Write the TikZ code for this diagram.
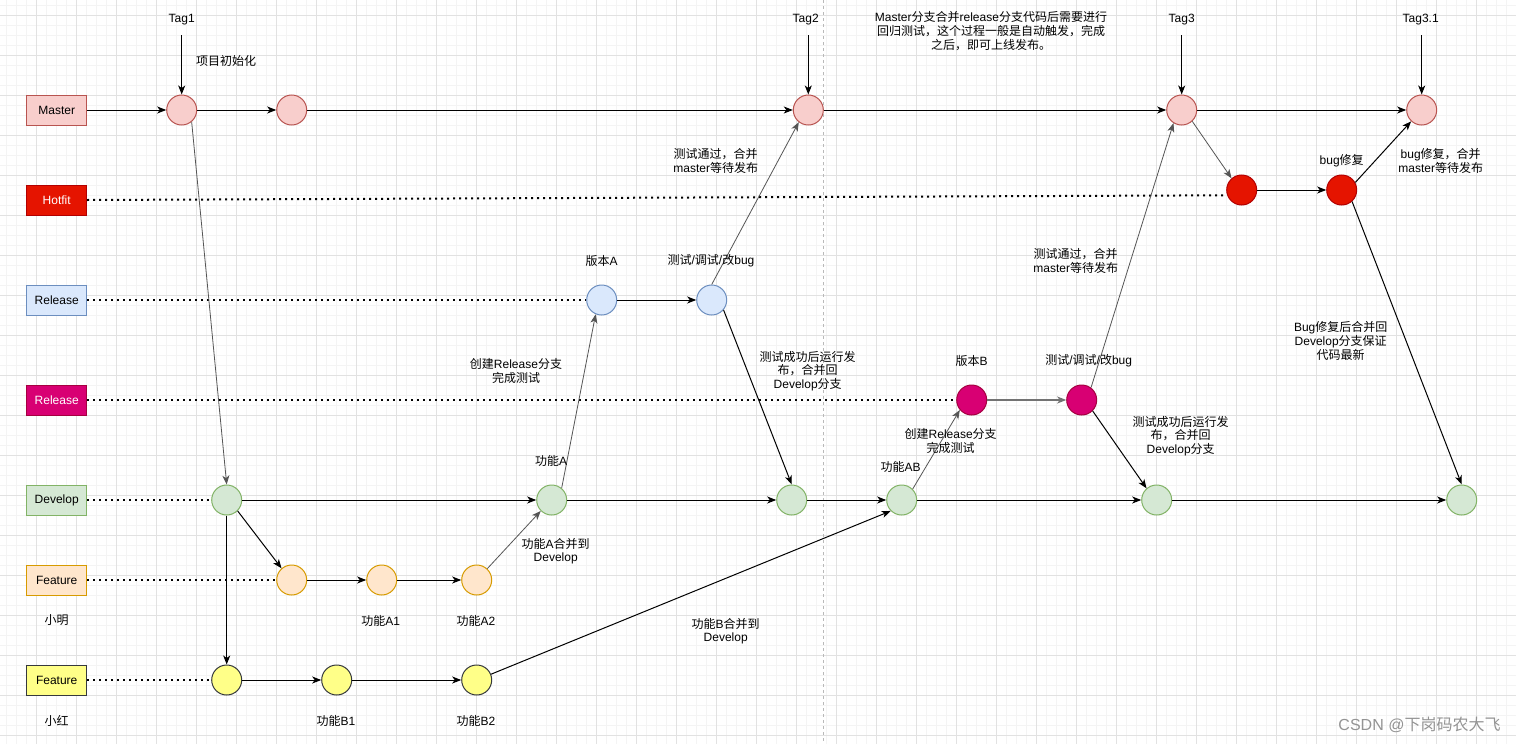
\documentclass[tikz,border=0pt]{standalone}
\usepackage{fontspec}
\setmainfont{Liberation Sans}
\newfontfamily\cjkf{Noto Sans CJK SC}
\usetikzlibrary{arrows.meta}
\XeTeXinterchartokenstate=1
\newXeTeXintercharclass\cjkcls
\makeatletter
\def\setcjkrange#1#2{\count@=#1\relax\loop\XeTeXcharclass\count@=\cjkcls\relax\ifnum\count@<#2\relax\advance\count@ by 1\relax\repeat}
\makeatother
\setcjkrange{"4E00}{"9FFF}
\setcjkrange{"3000}{"303F}
\setcjkrange{"FF00}{"FFEF}
\XeTeXinterchartoks 0 \cjkcls = {\cjkf}
\XeTeXinterchartoks 4095 \cjkcls = {\cjkf}
\XeTeXinterchartoks \cjkcls 0 = {\rmfamily}
\XeTeXinterchartoks \cjkcls 4095 = {\rmfamily}
\newcommand\dfont{\fontsize{12}{13.6}\selectfont}
\definecolor{mfill}{HTML}{F8CECC}\definecolor{mdraw}{HTML}{B85450}
\definecolor{hfill}{HTML}{E51400}\definecolor{hdraw}{HTML}{B20000}
\definecolor{rfill}{HTML}{DAE8FC}\definecolor{rdraw}{HTML}{6C8EBF}
\definecolor{sfill}{HTML}{D80073}\definecolor{sdraw}{HTML}{A50040}
\definecolor{dfill}{HTML}{D5E8D4}\definecolor{ddraw}{HTML}{82B366}
\definecolor{ffill}{HTML}{FFE6CC}\definecolor{fdraw}{HTML}{D79B00}
\definecolor{yfill}{HTML}{FFFF88}\definecolor{ydraw}{HTML}{36393D}
\definecolor{lgray}{HTML}{555555}
\definecolor{gmajor}{HTML}{E2E2E2}
\definecolor{gminor}{HTML}{F4F4F4}
\begin{document}
\begin{tikzpicture}[x=1pt,y=-1pt,line width=1pt,
  >={Stealth[length=9pt,width=7pt,inset=2.5pt]},
  lane/.style={draw, minimum width=60pt, minimum height=30pt, inner sep=0pt, font=\dfont},
  commit/.style={circle, draw, minimum size=30pt, inner sep=0pt},
  mc/.style={commit, fill=mfill, draw=mdraw},
  hc/.style={commit, fill=hfill, draw=hdraw},
  rc/.style={commit, fill=rfill, draw=rdraw},
  sc/.style={commit, fill=sfill, draw=sdraw},
  dc/.style={commit, fill=dfill, draw=ddraw},
  fc/.style={commit, fill=ffill, draw=fdraw},
  yc/.style={commit, fill=yfill, draw=ydraw},
  txt/.style={font=\dfont, align=center, inner sep=0pt},
  arr/.style={->, draw=black, line width=1pt},
  garr/.style={->, draw=lgray, line width=0.8pt},
  dots/.style={draw=black, line width=2pt, dash pattern=on 2pt off 4pt}]
\useasboundingbox (0,0) rectangle (1516,744);
\fill[white] (0,0) rectangle (1516,744);
% grid
\foreach \i in {0,...,151} \draw[gminor, line width=0.8pt] (6.7+10*\i,0) -- (6.7+10*\i,744);
\foreach \i in {0,...,74} \draw[gminor, line width=0.8pt] (0,5+10*\i) -- (1516,5+10*\i);
\foreach \i in {0,...,37} \draw[gmajor, line width=0.8pt] (36.7+40*\i,0) -- (36.7+40*\i,744);
\foreach \i in {0,...,18} \draw[gmajor, line width=0.8pt] (0,15+40*\i) -- (1516,15+40*\i);
\draw[gray!55, line width=0.8pt, dash pattern=on 3pt off 3pt] (823.3,0) -- (823.3,744);

% lane boxes
\node[lane, fill=mfill, draw=mdraw] (mB) at (56.7,110) {Master};
\node[lane, fill=hfill, draw=hdraw, text=white] (hB) at (56.7,200) {Hotfit};
\node[lane, fill=rfill, draw=rdraw] (rB) at (56.7,300) {Release};
\node[lane, fill=sfill, draw=sdraw, text=white] (sB) at (56.7,400) {Release};
\node[lane, fill=dfill, draw=ddraw] (dB) at (56.7,500) {Develop};
\node[lane, fill=ffill, draw=fdraw] (fB) at (56.7,580) {Feature};
\node[lane, fill=yfill, draw=ydraw] (yB) at (56.7,680) {Feature};

% commits
\node[mc] (M1) at (181.7,110) {};
\node[mc] (M2) at (291.7,110) {};
\node[mc] (M3) at (808.3,110) {};
\node[mc] (M4) at (1181.7,110) {};
\node[mc] (M5) at (1421.7,110) {};
\node[hc] (H1) at (1241.7,190) {};
\node[hc] (H2) at (1341.7,190) {};
\node[rc] (R1) at (601.7,300) {};
\node[rc] (R2) at (711.7,300) {};
\node[sc] (S1) at (971.7,400) {};
\node[sc] (S2) at (1081.7,400) {};
\node[dc] (D1) at (226.7,500) {};
\node[dc] (D2) at (551.7,500) {};
\node[dc] (D3) at (791.7,500) {};
\node[dc] (D4) at (901.7,500) {};
\node[dc] (D5) at (1156.7,500) {};
\node[dc] (D6) at (1461.7,500) {};
\node[fc] (F1) at (291.7,580) {};
\node[fc] (F2) at (381.7,580) {};
\node[fc] (F3) at (476.7,580) {};
\node[yc] (Y1) at (226.7,680) {};
\node[yc] (Y2) at (336.7,680) {};
\node[yc] (Y3) at (476.7,680) {};

% tags
\node[txt] (t1) at (181.7,20) {Tag1};
\node[txt] (t2) at (805.7,20) {Tag2};
\node[txt] (t3) at (1181.7,20) {Tag3};
\node[txt] (t4) at (1420.7,20) {Tag3.1};
\coordinate (t1s) at (181.7,35);
\coordinate (t2s) at (808.3,35);
\coordinate (t3s) at (1181.7,35);
\coordinate (t4s) at (1421.7,35);
\draw[arr] (t1s) -- (M1.north);
\draw[arr] (t2s) -- (M3.north);
\draw[arr] (t3s) -- (M4.north);
\draw[arr] (t4s) -- (M5.north);

% dotted lanes
\draw[dots] (hB.east) -- (H1.200);
\draw[dots] (rB.east) -- (R1.west);
\draw[dots] (sB.east) -- (S1.west);
\draw[dots] (dB.east) -- (D1.west);
\draw[dots] (fB.east) -- (F1.west);
\draw[dots] (yB.east) -- (Y1.west);

% master line
\draw[arr] (mB.east) -- (M1.west);
\draw[arr] (M1.east) -- (M2.west);
\draw[arr] (M2.east) -- (M3.west);
\draw[arr] (M3.east) -- (M4.west);
\draw[arr] (M4.east) -- (M5.west);
% hotfix
\draw[garr] (M4.-47) -- (H1.131);
\draw[arr] (H1.east) -- (H2.west);
\draw[arr] (H2.29) -- (M5.-133);
\draw[arr] (H2.-48) -- (D6.north);
% release A
\draw[arr] (R1.east) -- (R2.west);
\draw[garr] (R2.north) -- (M3.-128);
\draw[arr] (R2.-40) -- (D3.north);
\draw[garr] (D2.50) -- (R1.-113);
% release B
\draw[->, draw=gray!90!black, line width=1.6pt] (S1.east) -- (S2.west);
\draw[garr] (S2.53) -- (M4.-122);
\draw[arr] (S2.-45) -- (D5.131);
\draw[garr] (D4.45) -- (S1.-140);
% develop
\draw[arr] (D1.east) -- (D2.west);
\draw[arr] (D2.east) -- (D3.west);
\draw[arr] (D3.east) -- (D4.west);
\draw[arr] (D4.east) -- (D5.west);
\draw[arr] (D5.east) -- (D6.west);
\draw[garr] (M1.-50) -- (D1.north);
\draw[arr] (D1.-45) -- (F1.131);
\draw[arr] (D1.south) -- (Y1.north);
% features
\draw[arr] (F1.east) -- (F2.west);
\draw[arr] (F2.east) -- (F3.west);
\draw[garr] (F3.47) -- (D2.-135);
\draw[arr] (Y1.east) -- (Y2.west);
\draw[arr] (Y2.east) -- (Y3.west);
\draw[arr] (Y3.22) -- (D4.-135);

% labels
\node[txt] (l1) at (226,61) {项目初始化};
\node[txt] (l2) at (991,31) {Master分支合并release分支代码后需要进行\\回归测试，这个过程一般是自动触发，完成\\之后，即可上线发布。};
\node[txt] (l3) at (715.7,161) {测试通过，合并\\master等待发布};
\node[txt] (l4) at (1341.7,161) {bug修复};
\node[txt] (l5) at (1440.7,161) {bug修复，合并\\master等待发布};
\node[txt] (l6) at (601.7,261) {版本A};
\node[txt] (l7) at (711,261) {测试/调试/改bug};
\node[txt] (l8) at (516,371) {创建Release分支\\完成测试};
\node[txt] (l9) at (807.7,371) {测试成功后运行发\\布，合并回\\Develop分支};
\node[txt] (l10) at (551,461) {功能A};
\node[txt] (l11) at (900.7,467) {功能AB};
\node[txt] (l12) at (1075.7,261) {测试通过，合并\\master等待发布};
\node[txt] (l13) at (971.7,361) {版本B};
\node[txt] (l14) at (1088.7,361) {测试/调试/改bug};
\node[txt] (l15) at (950.7,441) {创建Release分支\\完成测试};
\node[txt] (l16) at (1180.7,436) {测试成功后运行发\\布，合并回\\Develop分支};
\node[txt] (l17) at (1340.7,341) {Bug修复后合并回\\Develop分支保证\\代码最新};
\node[txt] (l18) at (555.7,551) {功能A合并到\\Develop};
\node[txt] (l19) at (725.7,631) {功能B合并到\\Develop};
\node[txt] (l20) at (56.7,620.5) {小明};
\node[txt] (l21) at (56.7,721) {小红};
\node[txt] (l22) at (380.7,621) {功能A1};
\node[txt] (l23) at (476,621) {功能A2};
\node[txt] (l24) at (336,721) {功能B1};
\node[txt] (l25) at (476,721) {功能B2};
\node[txt, anchor=east, font=\fontsize{16}{18}\selectfont, text=gray!85] (wm) at (1501,725) {CSDN @下岗码农大飞};
\end{tikzpicture}
\end{document}
